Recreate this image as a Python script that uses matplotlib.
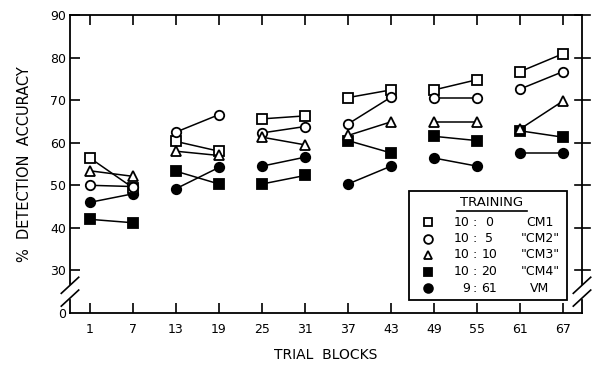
import matplotlib
matplotlib.use("Agg")
import matplotlib.pyplot as plt
from matplotlib.patches import Rectangle

# ---------------- data ----------------
blocks = [1, 7, 13, 19, 25, 31, 37, 43, 49, 55, 61, 67]
cm1 = [56.4, 49.4, 60.3, 58.0, 65.6, 66.3, 70.6, 72.4, 72.4, 74.8, 76.7, 80.9]
cm2 = [50.0, 49.7, 62.5, 66.6, 62.3, 63.8, 64.4, 70.7, 70.5, 70.5, 72.6, 76.7]
cm3 = [53.4, 52.1, 58.0, 57.0, 61.3, 59.5, 61.7, 64.9, 64.9, 64.9, 63.2, 69.8]
cm4 = [42.0, 41.2, 53.3, 50.3, 50.3, 52.3, 60.5, 57.6, 61.5, 60.5, 62.8, 61.3]
vm = [46.0, 48.0, 49.2, 54.2, 54.5, 56.6, 50.3, 54.5, 56.4, 54.5, 57.6, 57.6]

ratios_left = ["10", "10", "10", "10", "9"]
ratios_right = ["0", "5", "10", "20", "61"]
group_labels = ["CM1", '"CM2"', '"CM3"', '"CM4"', "VM"]
yticks = [20, 30, 40, 50, 60, 70, 80, 90]
ytick_labels = ["0", "30", "40", "50", "60", "70", "80", "90"]

series = [
    (cm1, "s", "white"),
    (cm2, "o", "white"),
    (cm3, "^", "white"),
    (cm4, "s", "black"),
    (vm, "o", "black"),
]

plt.rcParams["font.family"] = ["DejaVu Sans"]
fig = plt.figure(figsize=(5.95, 3.65), dpi=100)
ax = fig.add_axes([70 / 595, 52 / 365, 512 / 595, 298 / 365])

for vals, mk, fc in series:
    for i in range(0, len(blocks), 2):
        ax.plot(blocks[i:i + 2], vals[i:i + 2], color="black", lw=1.1,
                marker=mk, markersize=6.8 if mk != "^" else 7.3,
                markerfacecolor=fc, markeredgecolor="black",
                markeredgewidth=1.3, zorder=3 if fc == "black" else 4)

ax.set_xlim(-1.79, 69.65)
ax.set_ylim(20, 90)
ax.set_xticks(blocks)
ax.set_xticklabels([str(b) for b in blocks], fontsize=9)
ax.set_yticks(yticks)
ax.set_yticklabels(ytick_labels, fontsize=9)

ax.tick_params(axis="both", direction="in", length=7, width=1.2, color="black")
ax.tick_params(axis="x", top=True, pad=7)
ax.tick_params(axis="y", right=False, pad=3)
ax.yaxis.get_major_ticks()[0].tick1line.set_visible(False)

for s in ["left", "right"]:
    ax.spines[s].set_visible(False)
for s in ["top", "bottom"]:
    ax.spines[s].set_linewidth(1.3)

tr = ax.transAxes
# spines with break marks (axes fraction coords)
yb_hi = 0.098
yb_lo = 0.045
for xs in (0.0, 1.0):
    ax.plot([xs, xs], [yb_hi, 1.0], color="black", lw=1.3, transform=tr, clip_on=False)
    ax.plot([xs, xs], [0.0, yb_lo], color="black", lw=1.3, transform=tr, clip_on=False)
    for yc in (yb_hi - 0.005, yb_lo + 0.005):
        ax.plot([xs - 0.017, xs + 0.017], [yc - 0.027, yc + 0.027], color="black",
                lw=1.2, transform=tr, clip_on=False)
# right-side ticks crossing the spine
for yv in yticks[1:]:
    yf = (yv - 20) / 70
    ax.plot([0.986, 1.016], [yf, yf], color="black", lw=1.2, transform=tr, clip_on=False)

fig.text(326 / 595, 1 - 355 / 365, "TRIAL  BLOCKS", fontsize=10, ha="center", va="center")
ax.set_ylabel("%  DETECTION  ACCURACY", fontsize=10.5, labelpad=13)

# ---------------- legend (manual) ----------------
x0, x1 = 0.662, 0.971
ytop, ybot = 0.409, 0.044
ax.add_patch(Rectangle((x0, ybot), x1 - x0, ytop - ybot, transform=tr,
                       facecolor="white", edgecolor="black", lw=1.3, zorder=6))
ax.text(0.824, 0.372, "TRAINING", transform=tr, ha="center", va="center",
        fontsize=9.5, zorder=7)
ax.plot([0.756, 0.893], [0.343, 0.343], color="black", lw=1.2, transform=tr, zorder=7)
rows = [0.305, 0.250, 0.195, 0.139, 0.083]
for (vals, mk, fc), yr, rl, rr, gl in zip(series, rows, ratios_left, ratios_right, group_labels):
    ax.plot([0.699], [yr], marker=mk, markersize=6.3, markerfacecolor=fc,
            markeredgecolor="black", markeredgewidth=1.3, transform=tr,
            zorder=7, clip_on=False)
    ax.text(0.781, yr, rl, transform=tr, ha="right", va="center", fontsize=9, zorder=7)
    ax.text(0.791, yr, ":", transform=tr, ha="center", va="center", fontsize=9, zorder=7)
    ax.text(0.819, yr, rr, transform=tr, ha="center", va="center", fontsize=9, zorder=7)
    ax.text(0.918, yr, gl, transform=tr, ha="center", va="center", fontsize=9, zorder=7)

fig.savefig("out.png", dpi=100)
